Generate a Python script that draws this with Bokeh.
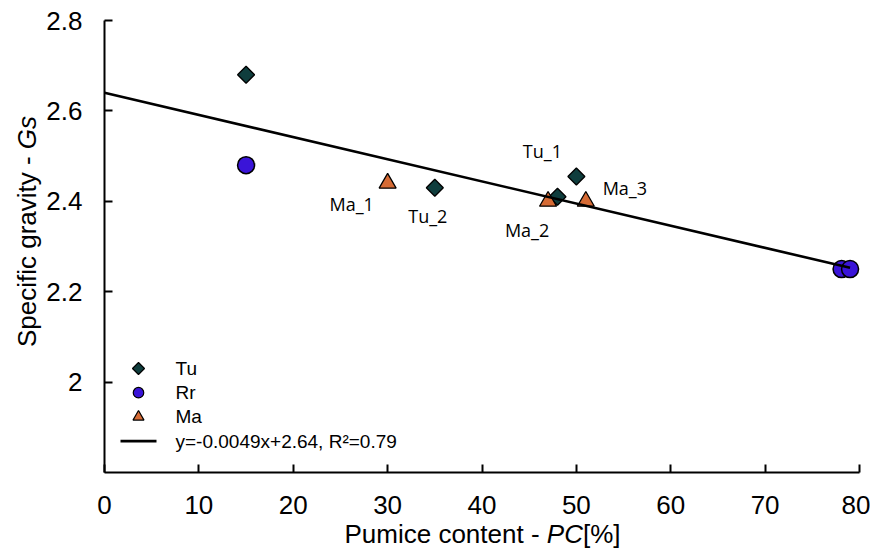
import numpy as np
from bokeh.plotting import figure
from bokeh.models import (Range1d, FixedTicker, CustomJSTickFormatter, Label,
                          ColumnDataSource)
from bokeh.embed import file_html
from bokeh.resources import INLINE
from bokeh.core.properties import value

# ---------------- data ----------------
tu_x = [15.0, 35.0, 48.0, 50.0]
tu_y = [2.68, 2.43, 2.41, 2.455]
tu_names = ["", "Tu_2", "", "Tu_1"]

rr_x = [15.0, 78.1, 79.0]
rr_y = [2.48, 2.25, 2.25]

ma_x = [30.0, 47.0, 51.0]
ma_y = [2.44, 2.40, 2.40]
ma_names = ["Ma_1", "Ma_2", "Ma_3"]

fit_slope = -0.0049
fit_intercept = 2.64
fit_label = "y=-0.0049x+2.64, R²=0.79"

x_ticks = [0, 10, 20, 30, 40, 50, 60, 70, 80]
y_ticks = [2.0, 2.2, 2.4, 2.6, 2.8]
x_title = ["Pumice content -", "PC", "[%]"]
y_title = ["Specific gravity -", "Gs"]
series_names = ["Tu", "Rr", "Ma"]

# ---------------- style / layout ----------------
FONT = "Liberation Sans"
W, H = 870, 551
X0, X1 = 0, 80
Y0, Y1 = 1.8, 2.8
# pixel positions (within the canvas) where the axes' extremes should land
PL, PR, PT, PB = 104, 859, 20, 472
C_TU, C_RR, C_MA = "#0f3d3d", "#3a14d8", "#d66b35"
label_offsets = {"Tu_1": (-34, -25), "Tu_2": (-7, 28), "Ma_1": (-36, 21),
                 "Ma_2": (-21, 29), "Ma_3": (39, -13)}

kx = (X1 - X0) / (PR - PL)
ky = (Y1 - Y0) / (PB - PT)
xmin, xmax = X0 - PL * kx, X1 + (W - PR) * kx
ymin, ymax = Y0 - (H - PB) * ky, Y1 + PT * ky


def px2x(px):
    return X0 + (px - PL) * kx


def py2y(py):
    return Y1 - (py - PT) * ky


p = figure(width=W, height=H, output_backend="svg", toolbar_location=None,
           x_range=Range1d(xmin, xmax), y_range=Range1d(ymin, ymax),
           min_border=0, min_border_left=0, min_border_right=0,
           min_border_top=0, min_border_bottom=0)
p.outline_line_color = None
p.grid.visible = False
p.background_fill_color = "white"
p.border_fill_color = "white"

for ax in (p.xaxis[0], p.yaxis[0]):
    ax.axis_line_color = "black"
    ax.axis_line_width = 2
    ax.major_tick_line_color = "black"
    ax.major_tick_line_width = 2
    ax.major_tick_in = 8
    ax.major_tick_out = 0
    ax.minor_tick_line_color = None
    ax.major_label_text_font = FONT
    ax.major_label_text_font_size = "26px"
    ax.major_label_text_color = "black"

p.xaxis.fixed_location = Y0
p.yaxis.fixed_location = X0
p.xaxis.bounds = (X0, X1)
p.yaxis.bounds = (Y0, Y1)
p.xaxis.ticker = FixedTicker(ticks=x_ticks)
p.yaxis.ticker = FixedTicker(ticks=y_ticks)
p.yaxis.formatter = CustomJSTickFormatter(code="return String(Math.round(tick*10)/10);")
p.xaxis.major_label_standoff = 23
p.yaxis.major_label_standoff = 22

# markers
p.scatter(tu_x, tu_y, marker="square", angle=np.pi / 4, size=12,
          fill_color=C_TU, line_color="black", line_width=1.3)
p.scatter(rr_x, rr_y, marker="circle", size=17,
          fill_color=C_RR, line_color="black", line_width=1.5)
p.scatter(ma_x, ma_y, marker="triangle", size=17,
          fill_color=C_MA, line_color="black", line_width=1.3)

# regression line
fx = [0.0, max(rr_x)]
fy = [fit_intercept + fit_slope * v for v in fx]
p.line(fx, fy, line_color="black", line_width=2.6)

# point labels
lab_x, lab_y, lab_t, lab_dx, lab_dy = [], [], [], [], []
for xs, ys, ns in ((tu_x, tu_y, tu_names), (ma_x, ma_y, ma_names)):
    for xv, yv, nv in zip(xs, ys, ns):
        if nv:
            lab_x.append(xv); lab_y.append(yv); lab_t.append(nv)
            lab_dx.append(label_offsets[nv][0]); lab_dy.append(label_offsets[nv][1])
src = ColumnDataSource(dict(x=lab_x, y=lab_y, t=lab_t, dx=lab_dx, dy=lab_dy))
p.text(x="x", y="y", text="t", x_offset="dx", y_offset="dy", source=src,
       text_font=value("Open Sans"), text_font_size="18px", text_color="black",
       text_align="center", text_baseline="middle")

# legend (drawn manually so the diamond keeps its rotation)
LG_X, LG_Y0, LG_DY = 138, 368, 24.2
LG_LINE = (120, 156)
LG_TEXT_X = 175
leg_rows = [py2y(LG_Y0 + i * LG_DY) for i in range(4)]
gx = px2x(LG_X)
p.scatter([gx], [leg_rows[0]], marker="square", angle=np.pi / 4, size=8.5,
          fill_color=C_TU, line_color="black", line_width=1.2)
p.scatter([gx], [leg_rows[1]], marker="circle", size=10.5,
          fill_color=C_RR, line_color="black", line_width=1.2)
p.scatter([gx], [leg_rows[2]], marker="triangle", size=11,
          fill_color=C_MA, line_color="black", line_width=1.2)
p.line([px2x(LG_LINE[0]), px2x(LG_LINE[1])], [leg_rows[3], leg_rows[3]],
       line_color="black", line_width=2.6)
p.text(x=[px2x(LG_TEXT_X)] * 4, y=leg_rows, text=series_names + [fit_label],
       text_font=value(FONT), text_font_size="19px", text_color="black",
       text_align="left", text_baseline="middle")

# axis titles (mixed italic)
fs = 26
sp = 0.278 * fs
common = dict(text_font=FONT, text_font_size=f"{fs}px", text_color="black",
              text_baseline="middle")
# x title
xc, xcy = 482, 533
w_pre = (7.781 - 0.278) * fs
w_it = (0.667 + 0.722) * fs
w_all = 10.615 * fs
split = xc - w_all / 2 + w_pre
p.add_layout(Label(x=px2x(split), y=py2y(xcy), text=x_title[0], text_align="right", **common))
p.add_layout(Label(x=px2x(split + sp), y=py2y(xcy), text=x_title[1], text_align="left",
                   text_font_style="italic", **common))
p.add_layout(Label(x=px2x(split + sp + w_it), y=py2y(xcy), text=x_title[2],
                   text_align="left", **common))
# y title (rotated)
ycx, yc = 26, 231
w_gs = 1.278 * fs
w_ytot = 8.891 * fs
gs_bottom = yc - w_ytot / 2 + w_gs
p.add_layout(Label(x=px2x(ycx), y=py2y(gs_bottom + sp), text=y_title[0],
                   angle=np.pi / 2, text_align="right", **common))
p.add_layout(Label(x=px2x(ycx), y=py2y(gs_bottom), text=y_title[1],
                   angle=np.pi / 2, text_align="left", text_font_style="italic", **common))

open("out.html", "w").write(file_html(p, INLINE))
